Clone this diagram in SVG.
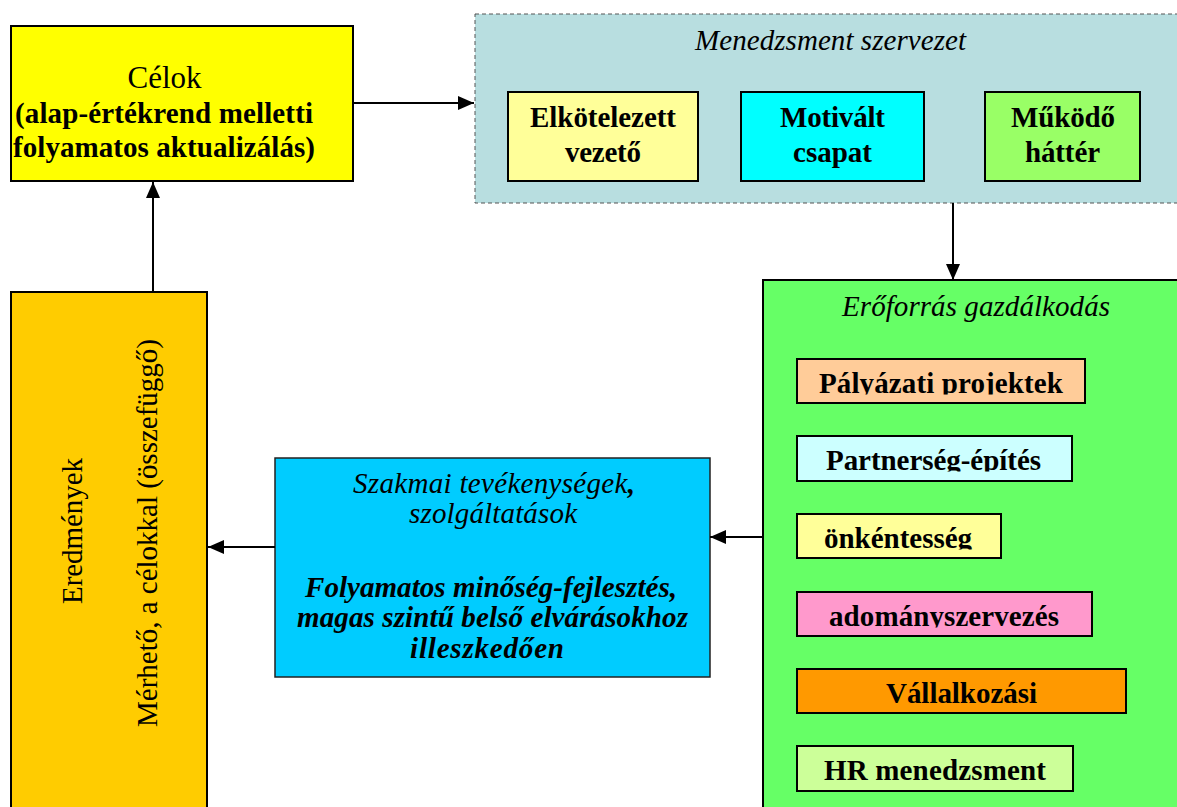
<svg xmlns="http://www.w3.org/2000/svg" width="1177" height="807" viewBox="0 0 1177 807">
<style>
  text { font-family: "Liberation Serif", "DejaVu Serif", serif; font-size: 29px; fill: #000; }
  .b { font-weight: bold; }
  .i { font-style: italic; }
  .m { text-anchor: middle; }
  .box { stroke: #000; stroke-width: 2; }
  .conn { stroke: #000; stroke-width: 2; fill: none; }
</style>
<defs>
  <marker id="arr" markerUnits="userSpaceOnUse" markerWidth="16" markerHeight="14" refX="16" refY="7" orient="auto">
    <path d="M0,0 L16,7 L0,14 Z" fill="#000"/>
  </marker>
  <clipPath id="c1"><rect x="797" y="359" width="288" height="35.5"/></clipPath>
  <clipPath id="c2"><rect x="797" y="436" width="275" height="35.5"/></clipPath>
  <clipPath id="c3"><rect x="797" y="514" width="204" height="35.5"/></clipPath>
  <clipPath id="c4"><rect x="797" y="592" width="295" height="35.5"/></clipPath>
  <clipPath id="c5"><rect x="797" y="669" width="329" height="35.5"/></clipPath>
  <clipPath id="c6"><rect x="797" y="746" width="276" height="35.5"/></clipPath>
</defs>
<rect width="1177" height="807" fill="#fff"/>

<g id="celok">
  <rect class="box" x="11" y="26" width="342" height="155" fill="#FFFF00"/>
  <text class="m" x="164.5" y="88" style="font-size:31px">Célok</text>
  <text class="b" x="15" y="123" textLength="298">(alap-értékrend melletti</text>
  <text class="b" x="13" y="157" textLength="302">folyamatos aktualizálás)</text>
</g>

<g id="menedzsment">
  <rect x="475" y="14" width="712" height="189" fill="#B8DEE0" stroke="#555" stroke-width="1" stroke-dasharray="4,3"/>
  <text class="i m" x="830.5" y="50" textLength="271">Menedzsment szervezet</text>
</g>

<g id="elkotelezett">
  <rect class="box" x="508" y="92" width="190" height="89" fill="#FFFF99"/>
  <text class="b m" x="603" y="127" textLength="146">Elkötelezett</text>
  <text class="b m" x="603" y="162" textLength="76">vezető</text>
</g>

<g id="motivalt">
  <rect class="box" x="741" y="92" width="183" height="89" fill="#00FFFF"/>
  <text class="b m" x="832.5" y="127" textLength="105">Motivált</text>
  <text class="b m" x="832.5" y="162" textLength="79">csapat</text>
</g>

<g id="mukodo">
  <rect class="box" x="985" y="92" width="155" height="89" fill="#99FF66"/>
  <text class="b m" x="1063" y="127" textLength="104">Működő</text>
  <text class="b m" x="1062.5" y="162" textLength="75">háttér</text>
</g>

<g id="eroforras">
  <rect class="box" x="763" y="280" width="430" height="540" fill="#66FF66"/>
  <text class="i m" x="976" y="316" textLength="268">Erőforrás gazdálkodás</text>
</g>

<g id="palyazati">
  <rect class="box" x="797" y="359" width="288" height="44" fill="#FFCC99"/>
  <text class="b m" x="941" y="393" clip-path="url(#c1)" textLength="244">Pályázati projektek</text>
</g>
<g id="partnerseg">
  <rect class="box" x="797" y="436" width="275" height="45" fill="#CCFFFF"/>
  <text class="b m" x="933.5" y="470" clip-path="url(#c2)" textLength="215">Partnerség-építés</text>
</g>
<g id="onkentesseg">
  <rect class="box" x="797" y="514" width="204" height="44" fill="#FFFF99"/>
  <text class="b m" x="898" y="548" clip-path="url(#c3)" textLength="148">önkéntesség</text>
</g>
<g id="adomany">
  <rect class="box" x="797" y="592" width="295" height="44" fill="#FF99CC"/>
  <text class="b m" x="944" y="626" clip-path="url(#c4)" textLength="230">adományszervezés</text>
</g>
<g id="vallalkozasi">
  <rect class="box" x="797" y="669" width="329" height="44" fill="#FF9900"/>
  <text class="b m" x="961.5" y="703" clip-path="url(#c5)" textLength="151">Vállalkozási</text>
</g>
<g id="hr">
  <rect class="box" x="797" y="746" width="276" height="45" fill="#CCFF99"/>
  <text class="b m" x="935" y="780" clip-path="url(#c6)" textLength="222">HR menedzsment</text>
</g>

<g id="szakmai">
  <rect x="275" y="458" width="435" height="219" fill="#00CCFF" stroke="#222" stroke-width="1.5"/>
  <text class="i m" x="494" y="493" textLength="282">Szakmai tevékenységek<tspan class="b">,</tspan></text>
  <text class="i m" x="493" y="523" textLength="168">szolgáltatások</text>
  <text class="b i m" x="491" y="597" textLength="372">Folyamatos minőség-fejlesztés,</text>
  <text class="b i m" x="492.5" y="627" textLength="391">magas szintű belső elvárásokhoz</text>
  <text class="b i m" x="487" y="658" textLength="154">illeszkedően</text>
</g>

<g id="eredmenyek">
  <rect class="box" x="11" y="292" width="196" height="530" fill="#FFCC00"/>
  <text class="m" transform="translate(82,531) rotate(-90)" textLength="146">Eredmények</text>
  <text class="m" transform="translate(157,533) rotate(-90)" textLength="388">Mérhető, a célokkal (összefüggő)</text>
</g>

<g id="connectors">
  <line class="conn" x1="353" y1="103" x2="474" y2="103" marker-end="url(#arr)"/>
  <line class="conn" x1="953" y1="203" x2="953" y2="280" stroke-width="1.3" marker-end="url(#arr)"/>
  <line class="conn" x1="763" y1="537" x2="710" y2="537" marker-end="url(#arr)"/>
  <line class="conn" x1="275" y1="547" x2="208" y2="547" marker-end="url(#arr)"/>
  <line class="conn" x1="153" y1="292" x2="153" y2="182" marker-end="url(#arr)"/>
</g>
</svg>
